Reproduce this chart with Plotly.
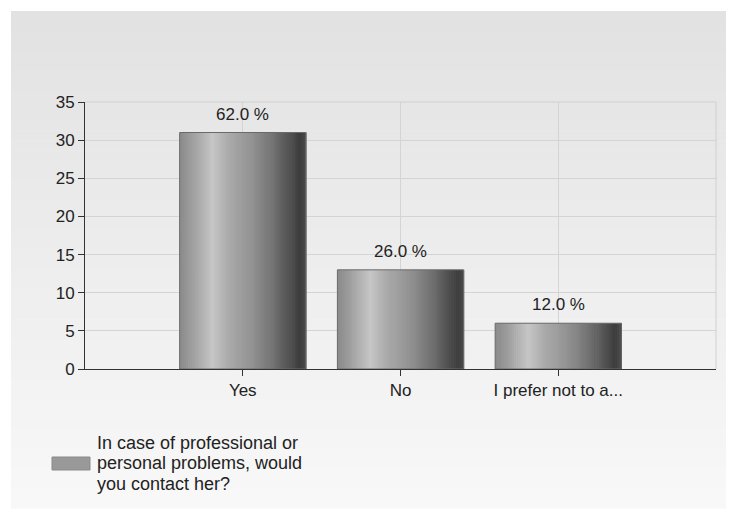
import plotly.graph_objects as go

categories = ["Yes", "No", "I prefer not to a..."]
values = [31, 13, 6]
series_lines = ["In case of professional or", "personal problems, would", "you contact her?"]
y_ticks = [0, 5, 10, 15, 20, 25, 30, 35]

# the page body adds an 8px margin; lay out in window pixels and subtract it
OFF = 8
WIN_W, WIN_H = 734, 519
W, H = WIN_W - OFF, WIN_H - OFF
PL, PR, PT, PB = 85, 716, 102, 369  # plot area in window pixels
L, R, T, B = PL - OFF, W - (PR - OFF), PT - OFF, H - (PB - OFF)
pw, ph = W - L - R, H - T - B
FONT = "Liberation Sans, Arial"

def px_to_paper(x, y):
    return (x - PL) / pw, (PB - y) / ph

# cylinder-like horizontal gradient stops (position, gray level)
stops = [(0.0, 0x8a), (0.1, 0x9e), (0.26, 0xc6), (0.4, 0xa8), (0.56, 0x94),
         (0.72, 0x76), (0.86, 0x55), (0.95, 0x3c), (1.0, 0x4a)]

def gray_at(t):
    for (t0, g0), (t1, g1) in zip(stops[:-1], stops[1:]):
        if t0 <= t <= t1:
            g = int(round(g0 + (g1 - g0) * (t - t0) / (t1 - t0)))
            return f"rgb({g},{g},{g})"
    g = stops[-1][1]
    return f"rgb({g},{g},{g})"

fig = go.Figure()

bar_w = 0.8
N = 60
sw = bar_w / N
for i in range(N):
    fig.add_trace(go.Bar(
        x=categories, y=values,
        width=sw * 1.3, offset=-bar_w / 2 + i * sw,
        marker=dict(color=gray_at((i + 0.5) / N), line=dict(width=0)),
        showlegend=False, hoverinfo="skip",
    ))

# outline
fig.add_trace(go.Bar(
    x=categories, y=values, width=bar_w,
    marker=dict(color="rgba(0,0,0,0)", line=dict(color="#6a6a6a", width=1)),
    showlegend=False, hoverinfo="skip",
))

total = sum(values)
annotations = []
for c, v in zip(categories, values):
    annotations.append(dict(
        x=c, y=v, xref="x", yref="y", text=f"{v / total * 100:.1f} %",
        showarrow=False, yanchor="bottom", yshift=7,
        font=dict(size=17, color="#222222", family=FONT),
    ))

# legend text
lx, _ = px_to_paper(95, 0)
for k, line in enumerate(series_lines):
    _, ly = px_to_paper(0, 443 + k * 20.5)
    annotations.append(dict(
        x=lx, y=ly, xref="paper", yref="paper", text=line,
        showarrow=False, xanchor="left", yanchor="middle",
        font=dict(size=18, color="#222222", family=FONT),
    ))

shapes = []
# gradient panel background
x0p, _ = px_to_paper(11, 0)
x1p, _ = px_to_paper(750, 0)
top, bot = 11, 508
nb = 50
for i in range(nb):
    ya = top + (bot - top) * i / nb
    yb = top + (bot - top) * (i + 1) / nb
    t = i / (nb - 1)
    g = int(round(0xe2 + (0xf8 - 0xe2) * t))
    _, y0p = px_to_paper(0, yb + 0.5)
    _, y1p = px_to_paper(0, ya)
    shapes.append(dict(type="rect", xref="paper", yref="paper",
                       x0=x0p, x1=x1p, y0=y0p, y1=y1p,
                       fillcolor=f"rgb({g},{g},{g})", line=dict(width=0),
                       layer="below"))
# top and right frame lines of plot area
shapes.append(dict(type="line", xref="paper", yref="paper", x0=0, x1=1, y0=1, y1=1,
                   line=dict(color="#d0d0d0", width=1)))
shapes.append(dict(type="line", xref="paper", yref="paper", x0=1, x1=1, y0=0, y1=1,
                   line=dict(color="#d0d0d0", width=1)))
# legend swatch
sx0, sy0 = px_to_paper(52, 470)
sx1, sy1 = px_to_paper(90, 457)
shapes.append(dict(type="rect", xref="paper", yref="paper",
                   x0=sx0, x1=sx1, y0=sy0, y1=sy1,
                   fillcolor="#999999", line=dict(color="#8a8a8a", width=1)))

fig.update_layout(
    width=W, height=H,
    margin=dict(l=L, r=R, t=T, b=B, autoexpand=False),
    paper_bgcolor="white",
    plot_bgcolor="rgba(0,0,0,0)",
    barmode="overlay",
    font=dict(family=FONT, size=17, color="#222222"),
    shapes=shapes,
    annotations=annotations,
    showlegend=False,
    xaxis=dict(
        type="category", range=[-1, 3],
        showgrid=True, gridcolor="#d4d4d4", gridwidth=1,
        showline=True, linecolor="#333333", linewidth=1,
        ticks="outside", ticklen=6, tickcolor="#333333",
        tickfont=dict(size=17, color="#222222"),
        zeroline=False, fixedrange=True, automargin=False,
    ),
    yaxis=dict(
        range=[0, 35], tickvals=y_ticks,
        showgrid=True, gridcolor="#d4d4d4", gridwidth=1,
        showline=True, linecolor="#333333", linewidth=1,
        ticks="outside", ticklen=6, tickcolor="#333333",
        tickfont=dict(size=17, color="#222222"),
        zeroline=False, fixedrange=True, automargin=False,
    ),
)

fig.write_html("out.html")
